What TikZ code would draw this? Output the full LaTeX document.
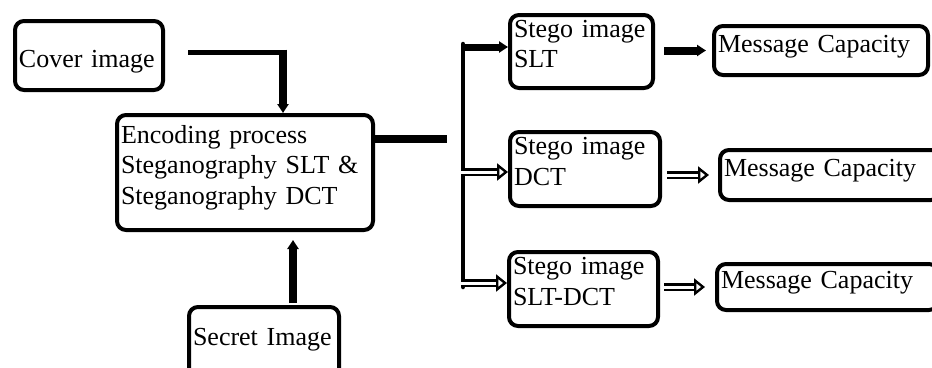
\documentclass[tikz,border=0pt]{standalone}
\usepackage{fontspec}
\setmainfont{Liberation Serif}
\usetikzlibrary{arrows.meta,calc}
\hyphenpenalty=10000
\begin{document}
\begin{tikzpicture}[x=1pt,y=-1pt]
	\tikzstyle{box}=[draw, line width=4pt, rounded corners=9pt, inner xsep=4pt, inner ysep=2pt, align=left, text height=18pt, font=\fontsize{26}{30.5}\selectfont]
	\tikzstyle{arr}=[line width=8pt, -{Triangle[length=9pt,width=11pt]}]
	\tikzstyle{dbl}=[line width=2.4pt, double=white, double distance=3pt, -{Triangle[open,length=11pt,width=17pt]}]
	\clip (0,0) rectangle (932,367);
	\node[box, text width=140pt, minimum height=69pt, text height=25pt, text depth=2pt] (cvr) at (89,55.5) {Cover image};
	\node[box, text width=248pt, minimum height=115pt, text depth=77pt] (enc) at (245,172.5) {Encoding process\\Steganography SLT \&\\Steganography DCT};
	\node[box, text width=142pt, minimum height=71pt, text depth=13pt] (sec) at (264,342.5) {Secret Image};
	\node[box, text width=135pt, minimum height=73pt, text depth=47pt] (stg1) at (581.5,51.5) {Stego image\\SLT};
	\node[box, text width=142pt, minimum height=74pt, text depth=47pt] (stg2) at (585,169) {Stego image\\DCT};
	\node[box, text width=141pt, minimum height=74pt, text depth=47pt] (stg3) at (583.5,289) {Stego image\\SLT-DCT};
	\node[box, text width=206pt, minimum height=49pt, text depth=15pt] (msg1) at (821,50.5) {Message Capacity};
	\node[box, text width=212pt, minimum height=50pt, text depth=15pt] (msg2) at (830,175) {Message Capacity};
	\node[box, text width=213pt, minimum height=46pt, text depth=15pt] (msg3) at (827.5,287) {Message Capacity};
	\coordinate (c1) at ($(cvr.east)+(23,-3.5)$);
	\coordinate (ck) at (283,52);
	\draw[line width=5pt] (c1) -- ([xshift=4pt]ck);
	\draw[arr] ([yshift=2.5pt]ck) -- (ck |- enc.north);
	\draw[arr] ($(sec.north)+(29,-2)$) -- ($(enc.south)+(48,8)$);
	\draw[line width=8pt] ($(enc.east)+(-2,-33.5)$) -- ++(74,0);
	\coordinate (b1) at (463,47);
	\coordinate (b2) at (463,172);
	\coordinate (b3) at (463,283);
	\draw[line width=4.5pt, line cap=round] ([yshift=3pt]b1) -- ([yshift=-4pt]b3);
	\draw[arr, line width=7pt] ([xshift=-2pt]b1) -- (b1 -| stg1.west);
	\draw[dbl] ([xshift=-2pt]b2) -- (b2 -| stg2.west);
	\draw[dbl] ([xshift=-2pt]b3) -- (b3 -| stg3.west);
	\draw[arr, shorten <=9pt, shorten >=6pt] (stg1.east |- msg1.west) -- (msg1.west);
	\draw[dbl, shorten <=5pt, shorten >=9pt] (stg2.east |- msg2.west) -- (msg2.west);
	\draw[dbl, shorten <=4pt, shorten >=10pt] (stg3.east |- msg3.west) -- (msg3.west);
\end{tikzpicture}
\end{document}
